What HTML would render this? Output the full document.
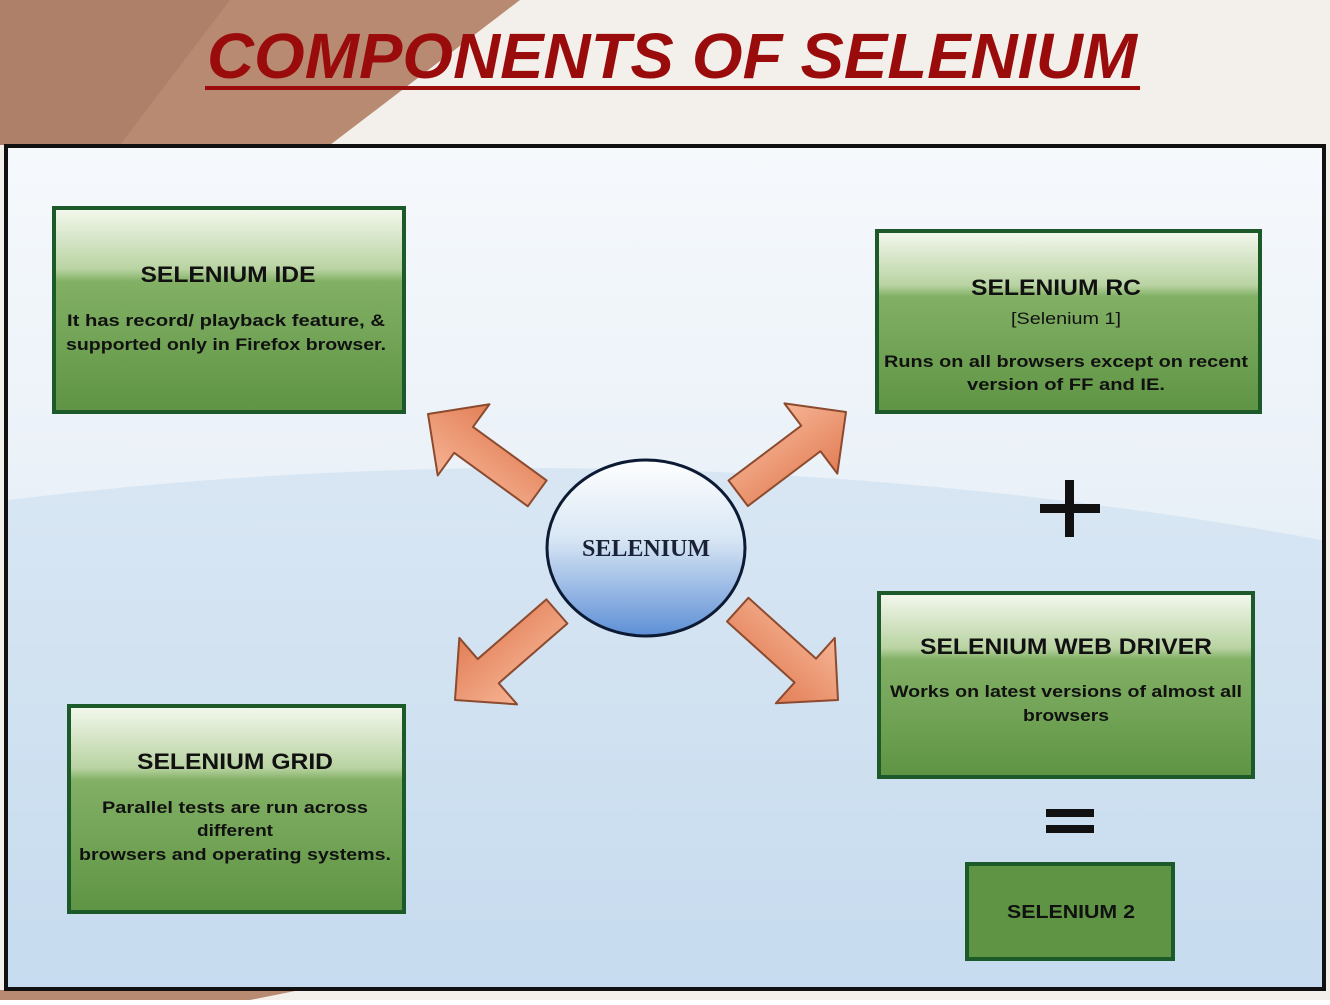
<!DOCTYPE html>
<html><head><meta charset="utf-8"><style>
body{margin:0;width:1330px;height:1000px;overflow:hidden}
svg text{font-family:"Liberation Sans",sans-serif}
</style></head><body>
<svg width="1330" height="1000" xmlns="http://www.w3.org/2000/svg">
<defs>
<linearGradient id="bg" x1="0" y1="0" x2="0" y2="1">
<stop offset="0" stop-color="#f6f9fc"/><stop offset="0.4" stop-color="#eaf1f8"/><stop offset="1" stop-color="#c9ddf0"/></linearGradient>
<linearGradient id="gb" x1="0" y1="0" x2="0" y2="1">
<stop offset="0" stop-color="#f4f8ee"/><stop offset="0.3" stop-color="#b9d3a2"/><stop offset="0.36" stop-color="#82b065"/><stop offset="1" stop-color="#5f9444"/></linearGradient>
<linearGradient id="cg" x1="0" y1="0" x2="0" y2="1">
<stop offset="0" stop-color="#ffffff"/><stop offset="0.45" stop-color="#d8e6f4"/><stop offset="1" stop-color="#5d8fd6"/></linearGradient>
<linearGradient id="ag" x1="0" y1="0" x2="0" y2="1">
<stop offset="0" stop-color="#f6b494"/><stop offset="1" stop-color="#e27e56"/></linearGradient>
<g id="arr"><polygon points="0,0 -44,-44 -44,-16 -135,-16 -135,16 -44,16 -44,44" fill="url(#ag)" stroke="#8c4a2e" stroke-width="2" stroke-linejoin="round"/></g>
</defs>
<rect width="1330" height="1000" fill="#f3efea"/>
<polygon points="0,0 520,0 330,145 0,145" fill="#b88a72"/>
<polygon points="0,0 230,0 120,145 0,145" fill="#a87a64" opacity="0.6"/>
<polygon points="0,990 300,990 250,1000 0,1000" fill="#b88a72"/>
<text x="672" y="78" text-anchor="middle" font-size="64" font-weight="bold" font-style="italic" fill="#9a0c0c" textLength="930" lengthAdjust="spacingAndGlyphs">COMPONENTS OF SELENIUM</text>
<rect x="205" y="86" width="935" height="4" fill="#9a0c0c"/>
<rect x="6" y="146" width="1318" height="843" fill="url(#bg)" stroke="#111" stroke-width="4"/>
<path d="M8,500 Q660,420 1322,540 L1322,987 L8,987Z" fill="#c4d9ee" opacity="0.45"/>

<g font-weight="bold" fill="#111" text-anchor="middle">
<rect x="54" y="208" width="350" height="204" fill="url(#gb)" stroke="#1c5a2a" stroke-width="4"/>
<text x="228" y="282" font-size="22" textLength="175" lengthAdjust="spacingAndGlyphs">SELENIUM IDE</text>
<text x="226" y="326" font-size="17" textLength="318" lengthAdjust="spacingAndGlyphs">It has record/ playback feature, &amp;</text>
<text x="226" y="350" font-size="17" textLength="320" lengthAdjust="spacingAndGlyphs">supported only in Firefox browser.</text>

<rect x="877" y="231" width="383" height="181" fill="url(#gb)" stroke="#1c5a2a" stroke-width="4"/>
<text x="1056" y="295" font-size="22" textLength="170" lengthAdjust="spacingAndGlyphs">SELENIUM RC</text>
<text x="1066" y="324" font-size="17" font-weight="normal" textLength="110" lengthAdjust="spacingAndGlyphs">[Selenium 1]</text>
<text x="1066" y="367" font-size="17" textLength="364" lengthAdjust="spacingAndGlyphs">Runs on all browsers except on recent</text>
<text x="1066" y="390" font-size="17" textLength="198" lengthAdjust="spacingAndGlyphs">version of FF and IE.</text>

<rect x="879" y="593" width="374" height="184" fill="url(#gb)" stroke="#1c5a2a" stroke-width="4"/>
<text x="1066" y="654" font-size="22" textLength="292" lengthAdjust="spacingAndGlyphs">SELENIUM WEB DRIVER</text>
<text x="1066" y="697" font-size="17" textLength="352" lengthAdjust="spacingAndGlyphs">Works on latest versions of almost all</text>
<text x="1066" y="721" font-size="17" textLength="86" lengthAdjust="spacingAndGlyphs">browsers</text>

<rect x="967" y="864" width="206" height="95" fill="#5f9444" stroke="#1c5a2a" stroke-width="4"/>
<text x="1071" y="918" font-size="18" textLength="128" lengthAdjust="spacingAndGlyphs">SELENIUM 2</text>

<rect x="69" y="706" width="335" height="206" fill="url(#gb)" stroke="#1c5a2a" stroke-width="4"/>
<text x="235" y="769" font-size="22" textLength="196" lengthAdjust="spacingAndGlyphs">SELENIUM GRID</text>
<text x="235" y="813" font-size="17" textLength="266" lengthAdjust="spacingAndGlyphs">Parallel tests are run across</text>
<text x="235" y="836" font-size="17" textLength="76" lengthAdjust="spacingAndGlyphs">different</text>
<text x="235" y="860" font-size="17" textLength="312" lengthAdjust="spacingAndGlyphs">browsers and operating systems.</text>
</g>

<rect x="1040" y="504" width="60" height="9" fill="#111"/>
<rect x="1065" y="480" width="9" height="57" fill="#111"/>
<rect x="1046" y="809" width="48" height="8" fill="#111"/>
<rect x="1046" y="825" width="48" height="8" fill="#111"/>

<use href="#arr" transform="translate(428,414) rotate(216)"/>
<use href="#arr" transform="translate(846,412) rotate(-37)"/>
<use href="#arr" transform="translate(455,700) rotate(139)"/>
<use href="#arr" transform="translate(838,700) rotate(42)"/>

<ellipse cx="646" cy="548" rx="99" ry="88" fill="url(#cg)" stroke="#0d1a33" stroke-width="3"/>
<text x="646" y="556" text-anchor="middle" font-size="24" font-weight="bold" fill="#1a2238" style="font-family:'Liberation Serif',serif">SELENIUM</text>
</svg>
</body></html>
